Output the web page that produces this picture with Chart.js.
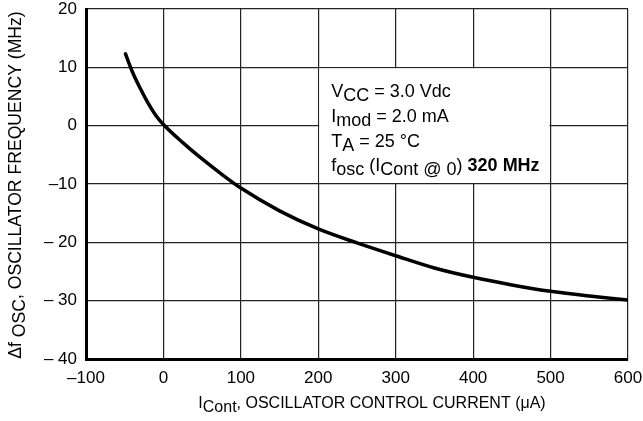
<!DOCTYPE html>
<html>
<head>
<meta charset="utf-8">
<script src="https://cdn.jsdelivr.net/npm/chart.js@4/dist/chart.umd.min.js"></script>
<style>
  html, body { margin: 0; padding: 0; background: #fff; }
  #wrap { width: 643px; height: 421px; }
</style>
</head>
<body>
<div id="wrap"><canvas id="oscChart" width="643" height="421"></canvas></div>
<script>
// control current (uA) vs oscillator frequency shift (MHz)
const currentUA = [-49, -40, -30, -20, -10, 0, 25, 50, 75, 100, 150, 200, 250, 300, 350, 400, 450, 500, 550, 600];
const freqShiftMHz = [12.3, 9.2, 6.4, 3.9, 1.8, 0.2, -2.9, -5.7, -8.3, -10.7, -14.6, -17.7, -20.1, -22.3, -24.4, -26.0, -27.3, -28.4, -29.2, -29.9];

const xTicks = [-100, 0, 100, 200, 300, 400, 500, 600];
const yTicks = [20, 10, 0, -10, -20, -30, -40];
const yTickLabels = ["20", "10", "0", "\u201310", "\u2013 20", "\u2013 30", "\u2013 40"];
const xTickLabels = ["\u2013100", "0", "100", "200", "300", "400", "500", "600"];

const FONT = "'Liberation Sans', Arial, Helvetica, sans-serif";

// draw text made of pieces, some of them subscript / bold
function drawRich(ctx, parts, x, y, size) {
  let cx = x;
  parts.forEach(function (p) {
    ctx.font = (p.bold ? "bold " : "") + size + "px " + FONT;
    ctx.fillText(p.t, cx, y + (p.sub ? 4 : 0));
    cx += ctx.measureText(p.t).width;
  });
  return cx - x;
}
function richWidth(ctx, parts, size) {
  let w = 0;
  parts.forEach(function (p) {
    ctx.font = (p.bold ? "bold " : "") + size + "px " + FONT;
    w += ctx.measureText(p.t).width;
  });
  return w;
}

const textPlugin = {
  id: "textPlugin",
  beforeDatasetsDraw(chart) {
    // white box behind the conditions note
    const ctx = chart.ctx;
    const xs = chart.scales.x, ys = chart.scales.y;
    const l = xs.getPixelForValue(200) + 1, r = xs.getPixelForValue(500) - 1;
    const t = ys.getPixelForValue(10) + 1, b = ys.getPixelForValue(-10) - 1;
    ctx.save();
    ctx.fillStyle = "#fff";
    ctx.fillRect(l, t, r - l, b - t);
    ctx.restore();
  },
  afterDraw(chart) {
    const ctx = chart.ctx;
    const xs = chart.scales.x;
    ctx.save();
    ctx.fillStyle = "#000";
    ctx.textBaseline = "alphabetic";
    ctx.textAlign = "left";

    // conditions note
    const nx = xs.getPixelForValue(200) + 13;
    drawRich(ctx, [{t: "V"}, {t: "CC", sub: true}, {t: " = 3.0 Vdc"}], nx, 97, 18);
    drawRich(ctx, [{t: "I"}, {t: "mod", sub: true}, {t: " = 2.0 mA"}], nx, 122, 18);
    drawRich(ctx, [{t: "T"}, {t: "A", sub: true}, {t: " = 25 \u00B0C"}], nx, 147, 18);
    drawRich(ctx, [{t: "f"}, {t: "osc", sub: true}, {t: " (I"}, {t: "Cont @ 0", sub: true}, {t: ") "}, {t: "320 MHz", bold: true}], nx, 171, 18);

    // x axis title
    const xParts = [{t: "I"}, {t: "Cont", sub: true}, {t: ", OSCILLATOR CONTROL CURRENT (\u03BCA)"}];
    const xw = richWidth(ctx, xParts, 16);
    drawRich(ctx, xParts, 372 - xw / 2, 408, 16);

    // y axis title, rotated
    const yParts = [{t: "\u0394f "}, {t: "OSC", sub: true}, {t: ", OSCILLATOR FREQUENCY (MHz)"}];
    const yw = richWidth(ctx, yParts, 17.6);
    ctx.translate(21, 185);
    ctx.rotate(-Math.PI / 2);
    drawRich(ctx, yParts, -yw / 2, 0, 17.6);
    ctx.restore();
  }
};

const ctx = document.getElementById("oscChart");

const data = {
  datasets: [
    {
      data: currentUA.map(function (c, i) { return { x: c, y: freqShiftMHz[i] }; }),
      borderColor: "#000",
      borderWidth: 3.5,
      pointRadius: 0,
      fill: false,
      cubicInterpolationMode: "monotone",
      borderCapStyle: "round"
    }
  ]
};

const config = {
  type: "line",
  data: data,
  options: {
    responsive: false,
    animation: false,
    layout: { padding: 0 },
    plugins: { legend: { display: false }, tooltip: { enabled: false } },
    scales: {
      x: {
        type: "linear",
        min: -100,
        max: 600,
        afterFit(scale) {
          scale.height = 62;
          scale.paddingLeft = 0;
          scale.paddingRight = 15;
        },
        afterBuildTicks(scale) { scale.ticks = xTicks.map(function (v) { return { value: v }; }); },
        ticks: {
          padding: 9,
          color: "#000",
          font: { family: FONT, size: 17 },
          maxRotation: 0,
          callback: function (v) { return xTickLabels[xTicks.indexOf(v)]; }
        },
        grid: { color: "#222", lineWidth: 1.2, drawTicks: false },
        border: { color: "#000", width: 3 }
      },
      y: {
        type: "linear",
        min: -40,
        max: 20,
        afterFit(scale) {
          scale.width = 86;
          scale.paddingTop = 9;
          scale.paddingBottom = 0;
        },
        afterBuildTicks(scale) { scale.ticks = yTicks.map(function (v) { return { value: v }; }); },
        ticks: {
          padding: 9,
          color: "#000",
          font: { family: FONT, size: 17 },
          callback: function (v) { return yTickLabels[yTicks.indexOf(v)]; }
        },
        grid: { color: "#222", lineWidth: 1.2, drawTicks: false },
        border: { color: "#000", width: 3 }
      }
    }
  },
  plugins: [textPlugin]
};

const oscChart = new Chart(ctx, config);
</script>
</body>
</html>
